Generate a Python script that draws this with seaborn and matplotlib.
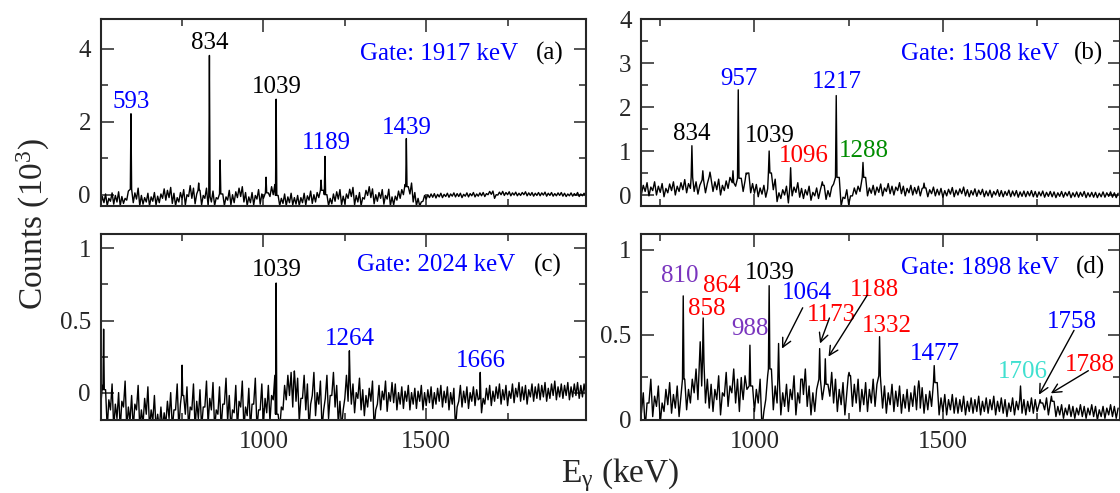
import numpy as np
import pandas as pd
import matplotlib
matplotlib.use("Agg")
import matplotlib.pyplot as plt
import seaborn as sns

# ---------------- data (counts in units of 10^3) ----------------
# Each spectrum: lower / upper edge of the noisy band read in 10 keV bins,
# plus the visible peaks (energy, height).
STEP = 10

a_e0 = 500
a_lo = [
    -0.28, -0.22, -0.30, -0.18, -0.26, -0.20, -0.30, -0.24, -0.15, -0.10, -0.22, -0.12, -0.30, -0.26, -0.20,
    -0.30, -0.18, -0.28, -0.22, -0.10, -0.15, -0.08, -0.24, -0.30, -0.20, -0.12, -0.28, -0.05, -0.10, -0.25,
    -0.15, -0.28, -0.10, -0.30, -0.20, -0.30, -0.12, -0.26, -0.30, -0.15, -0.28, -0.22, -0.08, -0.05, -0.20,
    -0.30, -0.22, -0.28, -0.12, -0.26, -0.10, -0.20, -0.05, 0.00, -0.25, -0.30, -0.24, -0.30, -0.22, -0.28,
    -0.26, -0.30, -0.22, -0.28, -0.15, -0.24, -0.20, -0.08, -0.10, -0.28, -0.30, -0.25, -0.18, -0.12, -0.28,
    -0.24, -0.10, -0.05, -0.28, -0.20, -0.30, -0.12, -0.02, -0.08, -0.25, -0.18, -0.10, -0.26, -0.12, -0.30,
    -0.28, -0.15, -0.10, 0.00, 0.05, 0.02, -0.20, -0.30, -0.31, -0.18, -0.12, -0.08, -0.07, -0.09, -0.06,
    -0.08, -0.05, -0.07, -0.04, -0.06, -0.05, -0.08, -0.04, -0.06, -0.03, -0.06, -0.04, -0.03, -0.05, 0.00,
    0.01, -0.10, -0.01, 0.00, -0.02, 0.00, -0.03, -0.01, -0.03, -0.02, 0.00, -0.03, -0.02, -0.04, -0.02,
    -0.03, -0.01, -0.04, -0.02, -0.04, -0.03, -0.02, -0.04, -0.05, -0.03, -0.04, -0.02, -0.05, -0.03, -0.04,
]
a_hi = [
    -0.05, 0.02, -0.10, 0.05, -0.02, 0.08, -0.05, -0.10, 0.10, 0.15, 0.05, 0.18, -0.02, -0.08, 0.04,
    -0.06, 0.06, -0.04, 0.02, 0.16, 0.12, 0.20, 0.04, -0.08, 0.06, 0.14, 0.00, 0.25, 0.18, 0.02,
    0.12, -0.02, 0.18, -0.05, 0.10, -0.08, 0.15, 0.02, -0.06, 0.12, 0.00, 0.08, 0.18, 0.22, 0.06,
    -0.06, 0.06, -0.02, 0.14, 0.02, 0.16, 0.05, 0.22, 0.28, -0.02, -0.10, 0.02, -0.06, 0.04, -0.08,
    -0.02, -0.08, 0.04, -0.03, 0.10, 0.00, 0.06, 0.18, 0.12, 0.00, -0.10, 0.02, 0.08, 0.14, -0.04,
    0.02, 0.15, 0.20, -0.02, 0.06, -0.08, 0.12, 0.22, 0.16, 0.00, 0.06, 0.14, -0.02, 0.15, -0.06,
    -0.04, 0.10, 0.14, 0.28, 0.22, 0.32, 0.06, -0.10, -0.20, -0.02, 0.00, 0.02, 0.03, 0.01, 0.04,
    0.01, 0.04, 0.02, 0.05, 0.03, 0.04, 0.01, 0.05, 0.03, 0.06, 0.02, 0.05, 0.06, 0.03, 0.09,
    0.10, 0.00, 0.07, 0.09, 0.06, 0.08, 0.05, 0.07, 0.04, 0.06, 0.08, 0.05, 0.06, 0.04, 0.06,
    0.05, 0.07, 0.04, 0.06, 0.03, 0.05, 0.06, 0.04, 0.02, 0.05, 0.03, 0.06, 0.02, 0.04, 0.03,
]
a_peak_e = [593, 801, 834, 867, 1008, 1039, 1177, 1189, 1439]
a_peak_h = [2.22, 0.32, 3.82, 0.95, 0.48, 2.62, 0.40, 1.05, 1.54]

b_e0 = 700
b_lo = [
    0.02, 0.08, -0.02, 0.10, 0.00, 0.06, -0.04, 0.05, 0.10, 0.00, 0.08, 0.12, 0.05, 0.15, 0.08,
    0.02, 0.12, 0.05, 0.18, 0.08, 0.12, 0.00, 0.10, 0.15, 0.05, 0.20, 0.12, 0.08, 0.22, 0.05,
    0.04, -0.04, 0.02, -0.05, 0.25, 0.12, -0.15, -0.08, 0.00, -0.18, -0.02, 0.06, -0.05, -0.08, 0.00,
    -0.12, -0.02, -0.08, 0.02, -0.10, -0.04, 0.25, 0.15, -0.25, -0.08, -0.22, -0.02, 0.02, 0.08, 0.15,
    -0.02, 0.04, 0.00, 0.06, -0.02, 0.08, 0.03, 0.00, 0.10, 0.03, -0.02, 0.05, 0.00, 0.03, -0.02,
    0.00, -0.04, 0.03, -0.02, 0.00, -0.05, -0.02, 0.02, -0.04, 0.00, 0.03, -0.02, -0.04, 0.00, -0.03,
    0.01, -0.04, -0.02, -0.05, 0.00, -0.03, -0.04, -0.01, -0.04, -0.02, -0.05, -0.03, -0.04, -0.02, -0.04,
    -0.05, -0.02, -0.05, -0.03, -0.04, -0.06, -0.03, -0.05, -0.02, -0.06, -0.04, -0.05, -0.03, -0.06, -0.04,
    -0.05, -0.06, -0.04, -0.05, -0.03, -0.05, -0.06,
]
b_hi = [
    0.22, 0.28, 0.18, 0.30, 0.20, 0.26, 0.15, 0.25, 0.30, 0.20, 0.28, 0.35, 0.26, 0.40, 0.30,
    0.22, 0.34, 0.26, 0.42, 0.30, 0.36, 0.22, 0.32, 0.40, 0.28, 0.48, 0.38, 0.32, 0.50, 0.26,
    0.24, 0.16, 0.22, 0.14, 0.50, 0.36, 0.05, 0.12, 0.20, 0.02, 0.18, 0.28, 0.15, 0.12, 0.20,
    0.06, 0.16, 0.12, 0.22, 0.10, 0.18, 0.48, 0.40, -0.05, 0.12, -0.02, 0.16, 0.20, 0.28, 0.40,
    0.16, 0.22, 0.18, 0.25, 0.16, 0.26, 0.20, 0.18, 0.28, 0.20, 0.15, 0.22, 0.17, 0.20, 0.15,
    0.16, 0.12, 0.18, 0.13, 0.15, 0.10, 0.13, 0.17, 0.11, 0.14, 0.18, 0.12, 0.10, 0.14, 0.11,
    0.13, 0.09, 0.11, 0.08, 0.12, 0.10, 0.08, 0.11, 0.09, 0.10, 0.07, 0.09, 0.08, 0.10, 0.08,
    0.07, 0.09, 0.06, 0.08, 0.07, 0.05, 0.08, 0.06, 0.08, 0.05, 0.07, 0.06, 0.08, 0.05, 0.06,
    0.06, 0.04, 0.07, 0.05, 0.07, 0.05, 0.04,
]
b_peak_e = [834, 863, 882, 943, 957, 980, 1039, 1096, 1180, 1217, 1288, 1450]
b_peak_h = [1.12, 0.55, 0.52, 0.55, 2.39, 0.48, 1.00, 0.62, 0.30, 2.26, 0.74, 0.27]

c_e0 = 500
c_lo = [
    -0.10, -0.15, -0.25, -0.12, -0.25, -0.18, -0.25, -0.10, -0.25, -0.20, -0.25, -0.12, -0.25, -0.22, -0.15,
    -0.25, -0.20, -0.25, -0.25, -0.25, -0.22, -0.18, -0.25, -0.12, -0.25, -0.20, -0.15, -0.25, -0.12, -0.25,
    -0.18, -0.25, -0.10, -0.22, -0.12, -0.25, -0.15, -0.25, -0.08, -0.20, -0.25, -0.14, -0.25, -0.10, -0.25,
    -0.16, -0.25, -0.08, -0.25, -0.12, -0.22, -0.14, -0.20, -0.05, -0.25, -0.25, -0.12, -0.05, -0.02, -0.10,
    -0.06, -0.20, -0.04, -0.12, -0.25, -0.02, -0.16, -0.08, -0.25, -0.04, -0.18, -0.02, -0.10, -0.22, -0.25,
    -0.04, -0.06, -0.08, -0.14, -0.04, -0.12, -0.16, -0.10, -0.06, -0.25, -0.08, -0.12, -0.05, -0.13, -0.06,
    -0.07, -0.12, -0.08, -0.11, -0.06, -0.12, -0.08, -0.11, -0.06, -0.12, -0.09, -0.07, -0.11, -0.08, -0.06,
    -0.10, -0.07, -0.12, -0.08, -0.25, -0.06, -0.10, -0.07, -0.11, -0.06, -0.09, -0.05, -0.14, -0.08, -0.05,
    -0.09, -0.06, -0.04, -0.08, -0.05, -0.09, -0.04, -0.07, -0.03, -0.06, -0.05, -0.08, -0.03, -0.06, -0.04,
    -0.05, -0.03, -0.06, -0.04, -0.02, -0.05, -0.03, -0.04, -0.02, -0.05, -0.03, -0.02, -0.04, -0.03, -0.02,
]
c_hi = [
    0.05, 0.02, -0.05, 0.06, -0.08, 0.00, -0.06, 0.08, -0.10, -0.02, -0.08, 0.05, -0.12, -0.04, 0.04,
    -0.12, -0.02, -0.15, -0.10, -0.14, -0.06, 0.00, -0.12, 0.06, -0.08, -0.02, 0.04, -0.10, 0.06, -0.06,
    0.02, -0.10, 0.08, -0.04, 0.07, -0.12, 0.04, -0.08, 0.10, -0.02, -0.12, 0.05, -0.06, 0.08, -0.10,
    0.03, -0.08, 0.10, -0.12, 0.06, -0.04, 0.05, -0.02, 0.12, -0.15, -0.10, 0.05, 0.12, 0.14, 0.08,
    0.10, -0.04, 0.12, 0.06, -0.08, 0.14, 0.00, 0.08, -0.12, 0.12, -0.02, 0.14, 0.05, -0.06, -0.12,
    0.12, 0.09, 0.06, 0.00, 0.10, 0.02, -0.02, 0.03, 0.08, -0.12, 0.05, 0.01, 0.08, 0.00, 0.07,
    0.06, 0.00, 0.04, 0.01, 0.05, 0.00, 0.03, 0.01, 0.05, 0.00, 0.02, 0.04, 0.00, 0.03, 0.05,
    0.01, 0.04, 0.00, 0.03, -0.10, 0.05, 0.01, 0.04, 0.00, 0.04, 0.02, 0.05, -0.04, 0.03, 0.05,
    0.01, 0.04, 0.06, 0.02, 0.05, 0.01, 0.06, 0.03, 0.07, 0.04, 0.05, 0.02, 0.06, 0.04, 0.06,
    0.05, 0.07, 0.03, 0.06, 0.08, 0.04, 0.06, 0.05, 0.07, 0.04, 0.06, 0.07, 0.05, 0.06, 0.07,
]
c_peak_e = [509, 750, 1039, 1095, 1264, 1666]
c_peak_h = [0.44, 0.19, 0.76, 0.15, 0.29, 0.14]

d_e0 = 700
d_lo = [
    0.04, -0.05, 0.10, 0.02, 0.08, -0.02, 0.05, 0.09, 0.04, 0.07, 0.02, 0.10, 0.06, 0.10, 0.16,
    0.12, 0.20, 0.10, 0.07, 0.05, 0.12, 0.03, 0.14, 0.08, 0.16, 0.10, 0.05, 0.12, 0.18, 0.08,
    0.05, 0.10, -0.05, 0.12, 0.15, 0.06, 0.10, 0.03, 0.08, 0.05, 0.12, 0.03, 0.10, 0.15, 0.08,
    0.03, 0.05, 0.10, 0.12, 0.08, 0.14, 0.10, 0.05, 0.09, 0.03, 0.12, 0.08, 0.10, 0.05, 0.09,
    0.05, 0.10, 0.08, 0.12, 0.07, 0.04, 0.09, 0.05, 0.08, 0.04, 0.07, 0.05, 0.08, 0.06, 0.07,
    0.04, 0.06, 0.08, 0.10, 0.03, 0.05, 0.03, 0.06, 0.04, 0.04, 0.05, 0.03, 0.05, 0.04, 0.05,
    0.03, 0.05, 0.04, 0.06, 0.03, 0.05, 0.04, 0.02, 0.05, 0.03, 0.06, 0.04, 0.03, 0.05, 0.04,
    0.05, 0.03, 0.06, 0.03, 0.04, 0.02, 0.03, 0.01, 0.03, 0.02, 0.01, 0.03, 0.02, 0.01, 0.03,
    0.02, 0.00, 0.02, 0.01, 0.03, 0.02, 0.01,
]
d_hi = [
    0.16, 0.10, 0.24, 0.14, 0.20, 0.10, 0.18, 0.22, 0.15, 0.20, 0.14, 0.24, 0.18, 0.24, 0.30,
    0.26, 0.34, 0.24, 0.21, 0.18, 0.26, 0.16, 0.28, 0.20, 0.30, 0.24, 0.18, 0.26, 0.32, 0.20,
    0.18, 0.24, 0.05, 0.26, 0.30, 0.20, 0.24, 0.16, 0.21, 0.18, 0.26, 0.16, 0.24, 0.30, 0.20,
    0.16, 0.18, 0.24, 0.26, 0.21, 0.28, 0.24, 0.18, 0.22, 0.16, 0.26, 0.21, 0.24, 0.18, 0.22,
    0.18, 0.24, 0.21, 0.26, 0.20, 0.16, 0.21, 0.17, 0.20, 0.15, 0.18, 0.16, 0.20, 0.17, 0.19,
    0.15, 0.17, 0.20, 0.22, 0.13, 0.15, 0.12, 0.15, 0.13, 0.12, 0.14, 0.11, 0.13, 0.12, 0.14,
    0.11, 0.13, 0.12, 0.14, 0.11, 0.13, 0.12, 0.10, 0.13, 0.11, 0.14, 0.12, 0.11, 0.13, 0.12,
    0.12, 0.10, 0.13, 0.09, 0.11, 0.08, 0.09, 0.07, 0.09, 0.08, 0.07, 0.09, 0.08, 0.07, 0.09,
    0.08, 0.06, 0.08, 0.07, 0.09, 0.08, 0.07,
]
d_peak_e = [811, 856, 864, 965, 988, 1039, 1064, 1125, 1173, 1188, 1251, 1332, 1436, 1477, 1706, 1758, 1788]
d_peak_h = [0.73, 0.46, 0.60, 0.25, 0.44, 0.79, 0.45, 0.24, 0.42, 0.36, 0.28, 0.49, 0.23, 0.32, 0.20, 0.12, 0.14]

BLUE, RED, GREEN, PURPLE, TURQ, BLACK = "#0000FF", "#FF0000", "#008C00", "#7A35BE", "#40E0D0", "#000000"

a_lab_text = ["593", "834", "1039", "1189", "1439"]
a_lab_x = [593, 834, 1041, 1194, 1441]
a_lab_y = [2.37, 4.0, 2.79, 1.26, 1.66]
a_lab_c = [BLUE, BLACK, BLACK, BLUE, BLUE]

b_lab_text = ["834", "957", "1039", "1096", "1217", "1288"]
b_lab_x = [834, 958, 1042, 1131, 1219, 1290]
b_lab_y = [1.24, 2.5, 1.21, 0.74, 2.43, 0.87]
b_lab_c = [BLACK, BLUE, BLACK, RED, BLUE, GREEN]

c_lab_text = ["1039", "1264", "1666"]
c_lab_x = [1041, 1265, 1669]
c_lab_y = [0.81, 0.33, 0.18]
c_lab_c = [BLACK, BLUE, BLUE]

d_lab_text = ["810", "864", "858", "1039", "988", "1064", "1173", "1188", "1332", "1477", "1706", "1758", "1788"]
d_lab_x = [803, 912, 874, 1042, 988, 1139, 1205, 1319, 1352, 1480, 1713, 1843, 1889]
d_lab_y = [0.81, 0.75, 0.615, 0.83, 0.50, 0.71, 0.585, 0.73, 0.52, 0.354, 0.245, 0.54, 0.29]
d_lab_c = [PURPLE, RED, RED, BLACK, PURPLE, BLUE, RED, RED, RED, BLUE, TURQ, BLUE, RED]

d_arrow_from = [(1128, 0.66), (1199, 0.60), (1299, 0.733), (1848, 0.527), (1886, 0.29)]
d_arrow_to = [(1073, 0.42), (1174, 0.45), (1196.5, 0.373), (1755, 0.149), (1786.5, 0.157)]

gate_text = ["Gate: 1917 keV", "Gate: 1508 keV", "Gate: 2024 keV", "Gate: 1898 keV"]
gate_x = [1298, 1389, 1287, 1388]
gate_y = [3.7, 3.07, 0.84, 0.86]
panel_tag = ["(a)", "(b)", "(c)", "(d)"]
tag_x = [1836, 1847, 1830, 1852]

# ---------------- style ----------------
sns.set_style("ticks")
plt.rcParams["font.family"] = ["Liberation Serif", "DejaVu Serif"]
plt.rcParams["mathtext.fontset"] = "custom"
plt.rcParams["mathtext.rm"] = "Liberation Serif"
plt.rcParams["mathtext.it"] = "Liberation Serif:italic"
plt.rcParams["mathtext.default"] = "regular"

FS = 18


def build(e0, lo, hi, pk_e, pk_h):
    grid = e0 + STEP * np.arange(len(lo))
    lo = np.asarray(lo, float)
    hi = np.asarray(hi, float)
    xs = np.concatenate([grid, grid + STEP / 2.0]).astype(float)
    ys = np.concatenate([lo, hi])
    pk_e = np.asarray(pk_e, float)
    keep = np.all(np.abs(xs[:, None] - pk_e[None, :]) > 3.0, axis=1)
    xs, ys = list(xs[keep]), list(ys[keep])
    for e, h in zip(pk_e, pk_h):
        f = hi[np.argmin(np.abs(grid - e))]
        xs += [e - 2.0, e, e + 2.0]
        ys += [f, h, f]
    order = np.argsort(xs, kind="stable")
    return pd.DataFrame({"E": np.array(xs)[order], "C": np.array(ys)[order]})


fig = plt.figure(figsize=(11.2, 4.93), dpi=100)
W, H = 1120.0, 493.0
boxes = [
    (100.7, 19, 585.7, 206),
    (641.4, 19, 1120.0, 206),
    (100.7, 234, 585.7, 420),
    (641.4, 234, 1120.0, 420),
]
axes = [fig.add_axes([l / W, 1 - b / H, (r - l) / W, (b - t) / H]) for (l, t, r, b) in boxes]

specs = [
    (a_e0, a_lo, a_hi, a_peak_e, a_peak_h, (500, 1990), (-0.31, 4.82), [0, 2, 4], [1, 3],
     a_lab_text, a_lab_x, a_lab_y, a_lab_c),
    (b_e0, b_lo, b_hi, b_peak_e, b_peak_h, (700, 1970), (-0.25, 4.0), [0, 1, 2, 3, 4], [0.5, 1.5, 2.5, 3.5],
     b_lab_text, b_lab_x, b_lab_y, b_lab_c),
    (c_e0, c_lo, c_hi, c_peak_e, c_peak_h, (500, 1990), (-0.19, 1.1), [0, 0.5, 1], [0.25, 0.75],
     c_lab_text, c_lab_x, c_lab_y, c_lab_c),
    (d_e0, d_lo, d_hi, d_peak_e, d_peak_h, (700, 1970), (0.0, 1.094), [0, 0.5, 1], [0.25, 0.75],
     d_lab_text, d_lab_x, d_lab_y, d_lab_c),
]

for i, (ax, sp) in enumerate(zip(axes, specs)):
    e0, lo, hi, pe, ph, xl, yl, ymaj, ymin, lt, lx, ly, lc = sp
    df = build(e0, lo, hi, pe, ph)
    sns.lineplot(data=df, x="E", y="C", ax=ax, color="black", lw=1.0,
                 estimator=None, sort=False)
    ax.set_xlim(*xl)
    ax.set_ylim(*yl)
    ax.set_xticks([1000, 1500])
    ax.set_xticks([750, 1250, 1750], minor=True)
    ax.set_yticks(ymaj)
    ax.set_yticks(ymin, minor=True)
    ax.set_yticklabels(["%g" % v for v in ymaj])
    ax.set_xticklabels(["1000", "1500"])
    ax.set_xlabel("")
    ax.set_ylabel("")
    ax.tick_params(which="both", direction="in", top=True, right=True, width=1.1,
                   labelsize=FS)
    ax.tick_params(which="major", length=9)
    ax.tick_params(which="minor", length=5)
    ax.tick_params(axis="y", pad=7)
    ax.tick_params(axis="x", pad=8)
    if i < 2:
        ax.tick_params(labelbottom=False)
    for s in ax.spines.values():
        s.set_linewidth(1.5)
        s.set_visible(True)
    for t, x, y, c in zip(lt, lx, ly, lc):
        ax.text(x, y, t, color=c, fontsize=FS, ha="center", va="baseline")
    ax.text(gate_x[i], gate_y[i], gate_text[i], color=BLUE, fontsize=FS, ha="left", va="baseline")
    ax.text(tag_x[i], gate_y[i], panel_tag[i], color=BLACK, fontsize=FS, ha="left", va="baseline")

for (xs, ys), (xe, ye) in zip(d_arrow_from, d_arrow_to):
    axes[3].annotate("", xy=(xe, ye), xytext=(xs, ys),
                     arrowprops=dict(arrowstyle="->", color="black", lw=1.0,
                                     mutation_scale=16, shrinkA=0, shrinkB=0))

fig.text(0.030, 0.545, "Counts (10$^3$)", rotation=90, fontsize=24, ha="center", va="center")
fig.text(0.5536, 0.022, "E$_\\gamma$ (keV)", fontsize=24, ha="center", va="baseline")

fig.savefig("out.png", dpi=100)
